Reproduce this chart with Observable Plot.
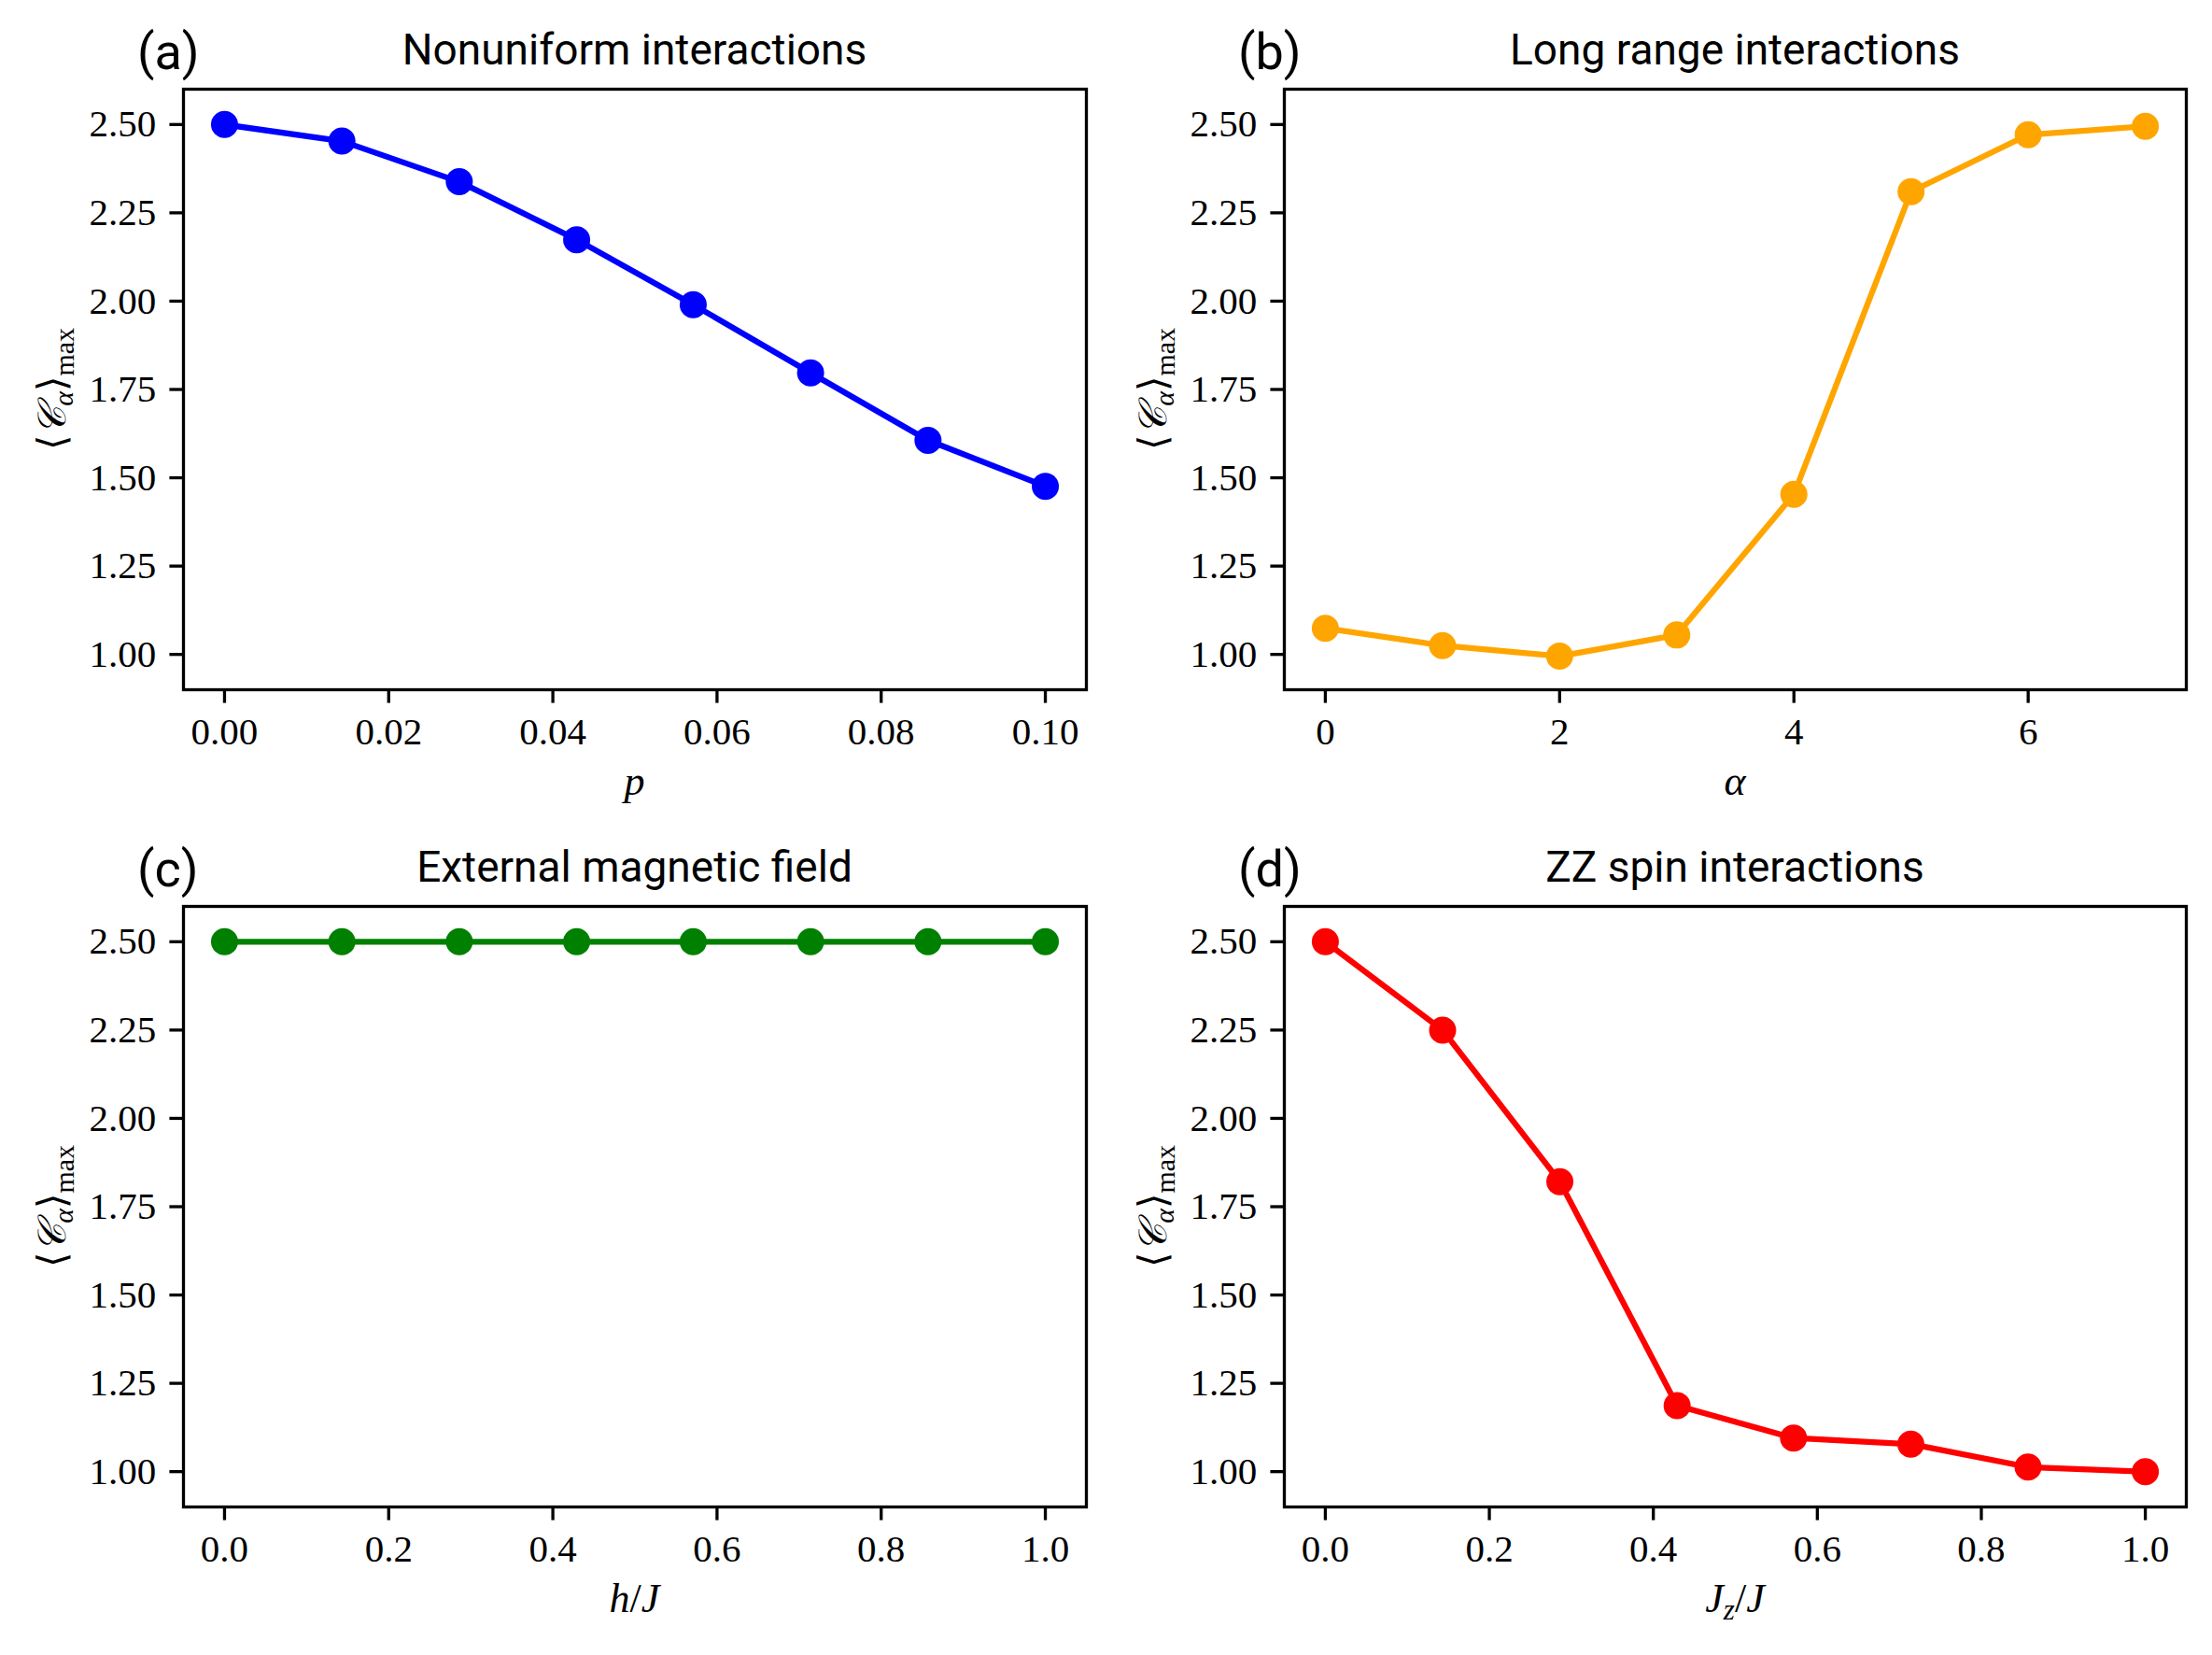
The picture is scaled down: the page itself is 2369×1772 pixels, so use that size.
<!DOCTYPE html>
<html><head><meta charset="utf-8">
<script src="https://cdn.jsdelivr.net/npm/d3@7"></script>
<script src="https://cdn.jsdelivr.net/npm/@observablehq/plot@0.6"></script>
<style>
html,body{margin:0;padding:0;background:#fff;}
#fig{position:relative;width:2369px;height:1772px;overflow:hidden;background:#fff;}
#fig svg{position:absolute;overflow:visible;}
</style></head><body><div id="fig"></div>
<script>
// ---- data ----
const pValues = [0, 0.0143, 0.0286, 0.0429, 0.0571, 0.0714, 0.0857, 0.1];
const nonuniformC = [2.500, 2.453, 2.338, 2.174, 1.990, 1.797, 1.606, 1.476];

const alphaValues = [0, 1, 2, 3, 4, 5, 6, 7];
const longRangeC = [1.074, 1.025, 0.995, 1.055, 1.453, 2.310, 2.471, 2.495];

const hValues = [0, 0.143, 0.286, 0.429, 0.571, 0.714, 0.857, 1.0];
const fieldC = [2.5, 2.5, 2.5, 2.5, 2.5, 2.5, 2.5, 2.5];

const jzValues = [0, 0.143, 0.286, 0.429, 0.571, 0.714, 0.857, 1.0];
const zzC = [2.500, 2.250, 1.821, 1.187, 1.095, 1.078, 1.013, 1.000];

const yTicks = [1.00, 1.25, 1.50, 1.75, 2.00, 2.25, 2.50];
const pTicks = [0, 0.02, 0.04, 0.06, 0.08, 0.10];
const alphaTicks = [0, 2, 4, 6];
const unitTicks = [0, 0.2, 0.4, 0.6, 0.8, 1.0];

const titles = ["Nonuniform interactions", "Long range interactions", "External magnetic field", "ZZ spin interactions"];
const letters = ["(a)", "(b)", "(c)", "(d)"];

// ---- layout ----
const SERIF = "'Liberation Serif', 'DejaVu Serif', serif";
const SANS = "Roboto, 'Liberation Sans', sans-serif";
const W = 1184, H = 886;
const panels = [
  {left: 0,    top: 0,   mL: 196, mR: 21, mT: 95, mB: 148, xs: pValues, ys: nonuniformC, color: "#0000ff",
   xdom: [-0.005, 0.105], xticks: pTicks, xfmt: ".2f", xlabel: [["p", "i"]]},
  {left: 1184, top: 0,   mL: 191, mR: 27, mT: 95, mB: 148, xs: alphaValues, ys: longRangeC, color: "#ffa500",
   xdom: [-0.35, 7.35], xticks: alphaTicks, xfmt: "d", xlabel: [["α", "i"]]},
  {left: 0,    top: 886, mL: 196, mR: 21, mT: 84, mB: 159, xs: hValues, ys: fieldC, color: "#008000",
   xdom: [-0.05, 1.05], xticks: unitTicks, xfmt: ".1f", xlabel: [["h", "i"], ["/", "n"], ["J", "i"]]},
  {left: 1184, top: 886, mL: 191, mR: 27, mT: 84, mB: 159, xs: jzValues, ys: zzC, color: "#ff0000",
   xdom: [-0.05, 1.05], xticks: unitTicks, xfmt: ".1f", xlabel: [["J", "i"], ["z", "sub"], ["/", "n"], ["J", "i"]]}
];

const fig = document.getElementById("fig");
panels.forEach((P, i) => {
  const data = P.xs.map((x, k) => ({x, y: P.ys[k]}));
  const svg = Plot.plot({
    width: W, height: H,
    marginLeft: P.mL, marginRight: P.mR, marginTop: P.mT, marginBottom: P.mB,
    style: {fontFamily: SERIF, fontSize: "41px", color: "black", background: "white"},
    x: {domain: P.xdom},
    y: {domain: [0.9, 2.6]},
    marks: [
      Plot.line(data, {x: "x", y: "y", stroke: P.color, strokeWidth: 6.25}),
      Plot.dot(data, {x: "x", y: "y", fill: P.color, r: 14.5}),
      Plot.frame({stroke: "black", strokeWidth: 3.3}),
      Plot.axisY({ticks: yTicks, tickFormat: d3.format(".2f"), tickSize: 14.6, tickPadding: 14.6, strokeWidth: 3.3, label: null}),
      Plot.axisX({ticks: P.xticks, tickFormat: d3.format(P.xfmt), tickSize: 14.6, tickPadding: 14.6, strokeWidth: 3.3, label: null})
    ]
  });
  svg.style.left = P.left + "px";
  svg.style.top = P.top + "px";
  fig.appendChild(svg);

  const s = d3.select(svg);
  const cx = (P.mL + W - P.mR) / 2;
  const cy = (P.mT + H - P.mB) / 2;
  // title
  s.append("text").attr("x", cx).attr("y", P.mT - 26).attr("text-anchor", "middle")
    .style("font-family", SANS).style("font-size", "46px").attr("fill", "black").text(titles[i]);
  // panel letter
  s.append("text").attr("x", P.mL - 49).attr("y", P.mT - 21).attr("text-anchor", "start")
    .style("font-family", SANS).style("font-size", "54px").attr("fill", "black").text(letters[i]);
  // x label
  const xl = s.append("text").attr("x", cx).attr("y", H - P.mB + 113).attr("text-anchor", "middle")
    .style("font-family", SERIF).style("font-size", "44px").attr("fill", "black");
  P.xlabel.forEach(([t, kind]) => {
    const ts = xl.append("tspan").text(t);
    if (kind === "i") ts.style("font-style", "italic");
    if (kind === "sub") ts.style("font-style", "italic").style("font-size", "31px").attr("dy", 8);
    if (kind === "n" && P.xlabel.some(d => d[1] === "sub")) ts.attr("dy", -8);
  });
  // y label: <C_alpha>_max
  const yl = s.append("text").attr("transform", `translate(${P.mL - 126},${cy}) rotate(-90)`)
    .attr("text-anchor", "middle").style("font-family", SERIF).style("font-size", "42px").attr("fill", "black");
  yl.append("tspan").text("⟨");
  yl.append("tspan").style("font-style", "italic").text("𝒞");
  yl.append("tspan").style("font-style", "italic").style("font-size", "30px").attr("dy", 8).text("α");
  yl.append("tspan").attr("dy", -8).text("⟩");
  yl.append("tspan").style("font-size", "30px").attr("dy", 9).text("max");
});
</script>
</body></html>
